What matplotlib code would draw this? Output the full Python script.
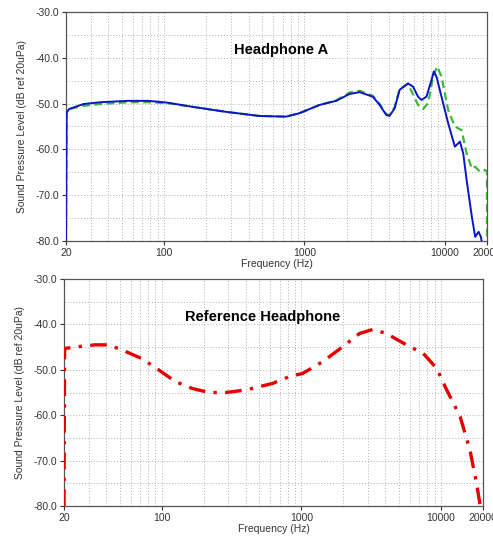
import numpy as np
import matplotlib
matplotlib.use("Agg")
import matplotlib.pyplot as plt
from matplotlib.ticker import FixedLocator, FixedFormatter, NullFormatter

plt.rcParams["font.family"] = ["Liberation Sans", "DejaVu Sans"]

# Headphone A - curva azul (solida)
freq_a_azul = [20, 20.2, 21, 26.6, 35.3, 55.6, 77.4, 106, 159, 276, 477, 740, 921,
               1280, 1684, 2096, 2472, 3074, 3435, 3834, 4044, 4396, 4770, 5473,
               5945, 6455, 6820, 7408, 8050, 8355, 8730, 9480, 10580, 11810, 12830,
               13550, 14320, 15600, 16480, 17410, 18100, 18300]
db_a_azul = [-80, -52.0, -51.2, -50.1, -49.7, -49.4, -49.4, -49.8, -50.7, -51.8, -52.7,
             -52.85, -52.1, -50.3, -49.4, -47.9, -47.5, -48.5, -50.3, -52.5, -52.7,
             -51.0, -47.0, -45.6, -46.3, -48.5, -49.2, -48.5, -44.85, -43.0, -44.1,
             -48.5, -54.3, -59.4, -58.3, -60.9, -66.7, -74.7, -79.1, -78.0, -79.1, -80]

# Headphone A - curva verde (discontinua)
freq_a_verde = [20, 20.2, 21, 26.6, 35.3, 55.6, 77.4, 106, 159, 276, 477, 740, 921,
                1280, 1684, 2096, 2472, 3074, 3435, 3834, 4044, 4396, 4770, 5473,
                6455, 7000, 7610, 8270, 8820, 9480, 10580, 11810, 13190, 14320, 15600,
                16480, 17880, 19480, 19990, 20000]
db_a_verde = [-80, -51.6, -51.2, -50.5, -50.1, -49.7, -49.7, -49.9, -50.7, -51.8, -52.7,
              -52.85, -52.1, -50.3, -49.3, -47.6, -47.2, -48.3, -50.1, -52.3, -52.5,
              -50.8, -46.8, -45.7, -50.3, -51.2, -49.9, -44.1, -41.9, -44.1, -51.4,
              -55.0, -55.8, -60.9, -64.2, -63.8, -64.9, -64.5, -64.9, -80]

# Reference Headphone (punto y raya)
freq_ref = [20, 20.2, 25.3, 33.3, 41.7, 51.8, 72.0, 95.1, 125.5, 165.5, 218, 287, 400,
            622, 820, 1022, 1424, 1982, 2612, 3259, 4067, 5660, 7480, 9330, 11000,
            13720, 16140, 17980, 18990, 19200]
db_ref = [-80, -45.3, -44.9, -44.5, -44.5, -45.6, -47.5, -50.0, -52.6, -54.1, -55.0,
          -55.0, -54.45, -53.0, -51.5, -50.8, -48.2, -44.9, -42.0, -41.1, -42.0, -44.5,
          -46.4, -49.7, -54.45, -60.3, -67.7, -75.0, -79.4, -80]

x_major = [20, 100, 1000, 10000, 20000]
x_labels = ["20", "100", "1000", "10000", "20000"]
x_minor = [30, 40, 50, 60, 70, 80, 90, 200, 300, 400, 500, 600, 700, 800, 900,
           2000, 3000, 4000, 5000, 6000, 7000, 8000, 9000]
y_major = [-30, -40, -50, -60, -70, -80]
y_minor = [-35, -45, -55, -65, -75]

tick_color = "#333333"


def preparar_eje(ax, titulo, tx, ty):
    ax.set_xscale("log")
    ax.set_xlim(20, 20000)
    ax.set_ylim(-80, -30)

    ax.xaxis.set_major_locator(FixedLocator(x_major))
    ax.xaxis.set_major_formatter(FixedFormatter(x_labels))
    ax.xaxis.set_minor_locator(FixedLocator(x_minor))
    ax.xaxis.set_minor_formatter(NullFormatter())
    ax.yaxis.set_major_locator(FixedLocator(y_major))
    ax.yaxis.set_minor_locator(FixedLocator(y_minor))
    ax.set_yticklabels(["%.1f" % v for v in y_major])

    ax.grid(which="both", color="#b0b0b0", linestyle=(0, (1, 2)), linewidth=0.7)
    ax.tick_params(which="major", length=3, width=0.8, labelsize=7.5,
                   colors=tick_color, pad=2)
    ax.tick_params(which="minor", length=0)

    for s in ax.spines.values():
        s.set_color("#555555")
        s.set_linewidth(0.9)

    ax.set_xlabel("Frequency (Hz)", fontsize=7.5, color=tick_color, labelpad=1)
    ax.set_ylabel("Sound Pressure Level (dB ref 20uPa)", fontsize=7.5,
                  color=tick_color, labelpad=6)
    ax.text(tx, ty, titulo, transform=ax.transAxes, ha="center", va="center",
            fontsize=10.5, fontweight="bold", color="black")


fig = plt.figure(figsize=(4.93, 5.37), dpi=100)
ax1 = fig.add_axes([0.1339, 0.5512, 0.8539, 0.4265])
ax2 = fig.add_axes([0.1298, 0.0577, 0.8499, 0.4227])

preparar_eje(ax1, "Headphone A", 0.51, 0.834)
ax1.plot(freq_a_verde, db_a_verde, color="#3cb83c", linewidth=1.6,
         linestyle=(0, (3.5, 2)), zorder=3)
ax1.plot(freq_a_azul, db_a_azul, color="#0a14c8", linewidth=1.4, zorder=4)

preparar_eje(ax2, "Reference Headphone", 0.475, 0.834)
ax2.plot(freq_ref, db_ref, color="#e80000", linewidth=2.4,
         linestyle=(0, (5, 2.5, 1, 2.5)), zorder=3)

fig.savefig("out.png", dpi=100)
